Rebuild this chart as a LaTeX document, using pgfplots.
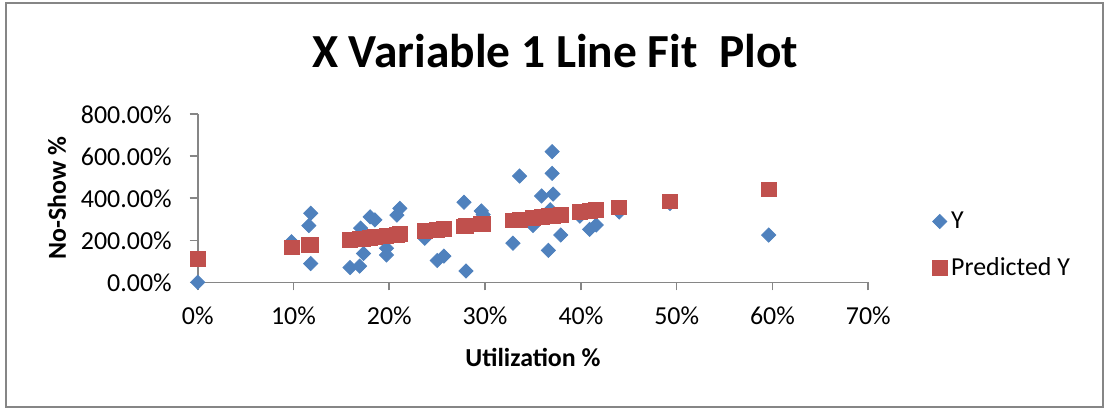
\documentclass[border=0pt]{standalone}
\usepackage{pgfplots}
\pgfplotsset{compat=1.18}
\usepackage{fontspec}
\setmainfont{Carlito}
\definecolor{xlblue}{HTML}{4F81BD}
\definecolor{xlred}{HTML}{C0504D}
\definecolor{axgray}{HTML}{868686}
\begin{document}
\begin{tikzpicture}
\path[use as bounding box] (0bp,0bp) rectangle (554bp,205bp);
\draw[axgray, line width=0.6bp] (3bp,1.5bp) rectangle (551.5bp,203.5bp);
\node[anchor=base, font=\fontsize{23.8}{28}\selectfont\bfseries] at (277.5bp,171.3bp) {X Variable 1 Line Fit\ \ Plot};
\node[rotate=90, font=\fontsize{13}{15}\selectfont\bfseries] at (28.5bp,105.8bp) {No-Show \%};
\node[anchor=base, font=\fontsize{13}{15}\selectfont\bfseries] at (266.5bp,22bp) {Utilization \%};
\begin{axis}[
  at={(98.85bp,63.85bp)}, anchor=south west,
  scale only axis, width=335.3bp, height=84bp,
  xmin=0, xmax=70, ymin=0, ymax=800,
  clip=false,
  axis lines*=left,
  axis line style={axgray, line width=0.8bp},
  tick style={axgray, line width=0.8bp},
  tick align=outside, major tick length=4bp,
  xtick={0,10,...,70},
  xticklabels={0\%,10\%,20\%,30\%,40\%,50\%,60\%,70\%},
  ytick={0,200,...,800},
  yticklabels={0.00\%,200.00\%,400.00\%,600.00\%,800.00\%},
  ticklabel style={font=\fontsize{13}{15}\selectfont},
  xticklabel style={yshift=-4.5bp},
  yticklabel style={xshift=-5.5bp},
  legend style={draw=none, fill=none, at={(1.095,0.222)}, anchor=west,
    font=\fontsize{13}{15}\selectfont, row sep=9bp, inner sep=0pt},
  legend cell align=left,
  legend image code/.code={\draw[#1] plot coordinates {(0bp,0bp)};},
]
\addplot[only marks, mark=square*, mark size=2.5bp, mark options={rotate=45, fill=xlblue, draw=xlblue}]
coordinates {
(0,0) (9.8,193) (11.6,270) (11.8,329) (11.8,89) (15.9,70) (16.9,77)
(17.3,137) (17.0,258) (18.0,312) (18.5,297) (19.7,162) (19.7,130)
(20.8,320) (21.1,352) (23.7,210) (25.0,104) (25.7,125) (27.8,381)
(28.0,54) (29.6,340) (29.8,322) (32.9,186) (33.6,506) (35.0,270)
(35.9,411) (36.6,152) (37.0,622) (37.0,519) (37.1,420) (36.8,345)
(37.9,225) (39.9,315) (40.9,252) (41.6,273) (44.0,335) (49.3,375)
(59.6,225)
};
\addlegendentry{Y}
\addplot[only marks, mark=square*, mark size=3.7bp, mark options={fill=xlred, draw=xlred}]
coordinates {
(0,112) (9.8,166.4) (11.6,176.4) (11.8,177.5) (15.9,200.2) (16.9,205.8)
(17.3,208.0) (17.0,206.4) (18.0,211.9) (18.5,214.7) (19.7,221.3)
(20.8,227.4) (21.1,229.1) (23.7,243.5) (25.0,250.8) (25.7,254.6)
(27.8,266.3) (28.0,267.4) (29.6,276.3) (29.8,277.4) (32.9,294.6)
(33.6,298.5) (35.0,306.3) (35.9,311.2) (36.6,315.1) (37.0,317.4)
(37.1,317.9) (36.8,316.2) (37.9,322.3) (39.9,333.4) (40.9,339.0)
(41.6,342.9) (44.0,356.2) (49.3,385.6) (59.6,442.8)
};
\addlegendentry{Predicted Y}
\end{axis}
\end{tikzpicture}
\end{document}
